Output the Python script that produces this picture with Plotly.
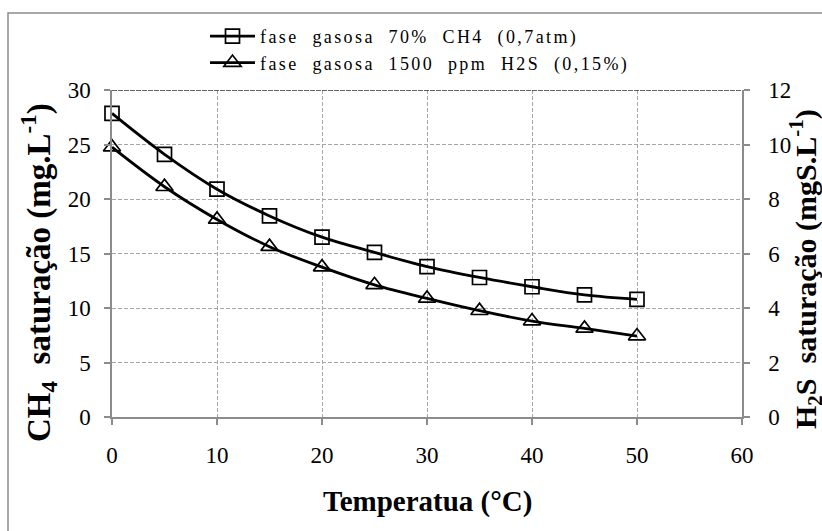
import plotly.graph_objects as go

temperature = [0, 5, 10, 15, 20, 25, 30, 35, 40, 45, 50]
ch4_sat = [27.85, 24.1, 20.9, 18.45, 16.5, 15.1, 13.8, 12.8, 11.95, 11.2, 10.8]
h2s_sat = [9.9, 8.45, 7.25, 6.25, 5.5, 4.85, 4.35, 3.9, 3.52, 3.25, 2.97]

x_ticks = [0, 10, 20, 30, 40, 50, 60]
y1_ticks = [0, 5, 10, 15, 20, 25, 30]
y2_ticks = [0, 2, 4, 6, 8, 10, 12]

name_ch4 = "fase\u00a0 gasosa\u00a0 70%\u00a0 CH4\u00a0 (0,7atm)"
name_h2s = "fase\u00a0 gasosa\u00a0 1500\u00a0 ppm\u00a0 H2S\u00a0 (0,15%)"

SERIF = "Liberation Serif"

# plot area in pixels
L, R, T, B = 112, 742, 90, 417
W, H = 822, 531
PW, PH = R - L, B - T


def px(x):
    return (x - L) / PW


def py(y):
    return (B - y) / PH


fig = go.Figure()
fig.add_trace(go.Scatter(
    x=temperature, y=ch4_sat, name=name_ch4, legendgroup="a",
    mode="lines+markers", line=dict(color="black", width=2.8, shape="spline"),
    marker=dict(symbol="square-open", size=14, color="black", line=dict(width=1.7)),
    cliponaxis=False, yaxis="y"))
fig.add_trace(go.Scatter(
    x=temperature, y=h2s_sat, name=name_h2s, legendgroup="b",
    mode="lines+markers", line=dict(color="black", width=2.8, shape="spline"),
    marker=dict(symbol="triangle-up-open", size=15, color="black", line=dict(width=1.7)),
    cliponaxis=False, yaxis="y2"))

axis_gray = "#8c8c8c"
grid_gray = "#a6a6a6"
tickfont = dict(family=SERIF, size=23, color="black")

fig.update_layout(
    width=W, height=H,
    margin=dict(l=L, r=W - R, t=T, b=H - B, pad=0, autoexpand=False),
    paper_bgcolor="white", plot_bgcolor="white",
    font=dict(family=SERIF, color="black"),
    showlegend=True,
    legend=dict(
        xref="paper", yref="paper", x=px(205), y=py(18),
        xanchor="left", yanchor="top",
        font=dict(family=SERIF, size=18, color="black"),
        bgcolor="rgba(0,0,0,0)", tracegroupgap=0, itemwidth=45,
    ),
    xaxis=dict(
        range=[0, 60], tickvals=x_ticks, ticktext=[str(v) for v in x_ticks],
        showline=True, linecolor=axis_gray, linewidth=1.5,
        ticks="outside", ticklen=6, tickcolor=axis_gray, tickwidth=1.5,
        showgrid=True, gridcolor=grid_gray, griddash="4px,2px", gridwidth=1,
        zeroline=False, tickfont=tickfont, ticklabelstandoff=11, tickangle=0,
        automargin=False,
    ),
    yaxis=dict(
        range=[0, 30], tickvals=y1_ticks, ticktext=[str(v) for v in y1_ticks],
        showline=True, linecolor=axis_gray, linewidth=1.5,
        ticks="outside", ticklen=6, tickcolor=axis_gray, tickwidth=1.5,
        showgrid=True, gridcolor=grid_gray, griddash="4px,2px", gridwidth=1,
        zeroline=False, tickfont=tickfont, ticklabelstandoff=9, automargin=False,
    ),
    yaxis2=dict(
        range=[0, 12], tickvals=y2_ticks, ticktext=[str(v) for v in y2_ticks],
        overlaying="y", side="right",
        showline=True, linecolor=axis_gray, linewidth=1.5,
        ticks="outside", ticklen=6, tickcolor=axis_gray, tickwidth=1.5,
        showgrid=False, zeroline=False, tickfont=tickfont, ticklabelstandoff=14,
        automargin=False,
    ),
)

# outer chart border (left + top visible)
fig.add_shape(type="rect", xref="paper", yref="paper",
              x0=px(8), x1=px(950), y0=py(650), y1=py(13),
              line=dict(color="#8c8c8c", width=1.5), fillcolor="rgba(0,0,0,0)", layer="below")
# dark top line of plot area
fig.add_shape(type="line", xref="x", yref="y", x0=0, x1=60, y0=30, y1=30,
              line=dict(color="#333333", width=1.3, dash="5px,1px"))

fig.add_annotation(
    text="<b>CH<sub>4</sub>\u00a0 saturação (mg.L<sup>-1</sup>)</b>",
    xref="paper", yref="paper", x=px(38), y=py(273),
    xanchor="center", yanchor="middle", textangle=-90, showarrow=False,
    font=dict(family=SERIF, size=33, color="black"))
fig.add_annotation(
    text="<b>H<sub>2</sub>S\u00a0 saturação (mgS.L<sup>-1</sup>)</b>",
    xref="paper", yref="paper", x=px(805), y=py(269),
    xanchor="center", yanchor="middle", textangle=-90, showarrow=False,
    font=dict(family=SERIF, size=30, color="black"))
fig.add_annotation(
    text="<b>Temperatua (°C)</b>",
    xref="paper", yref="paper", x=px(427), y=py(501),
    xanchor="center", yanchor="middle", showarrow=False,
    font=dict(family=SERIF, size=29, color="black"))

post = """
document.querySelectorAll('.legendtext').forEach(function(t){t.style.letterSpacing='2.4px';});
document.querySelectorAll('.legend .scrollbox').forEach(function(e){e.removeAttribute('clip-path');});
document.querySelectorAll('.legend [clip-path]').forEach(function(e){e.removeAttribute('clip-path');});
"""
fig.write_html("out.html", post_script=post)
